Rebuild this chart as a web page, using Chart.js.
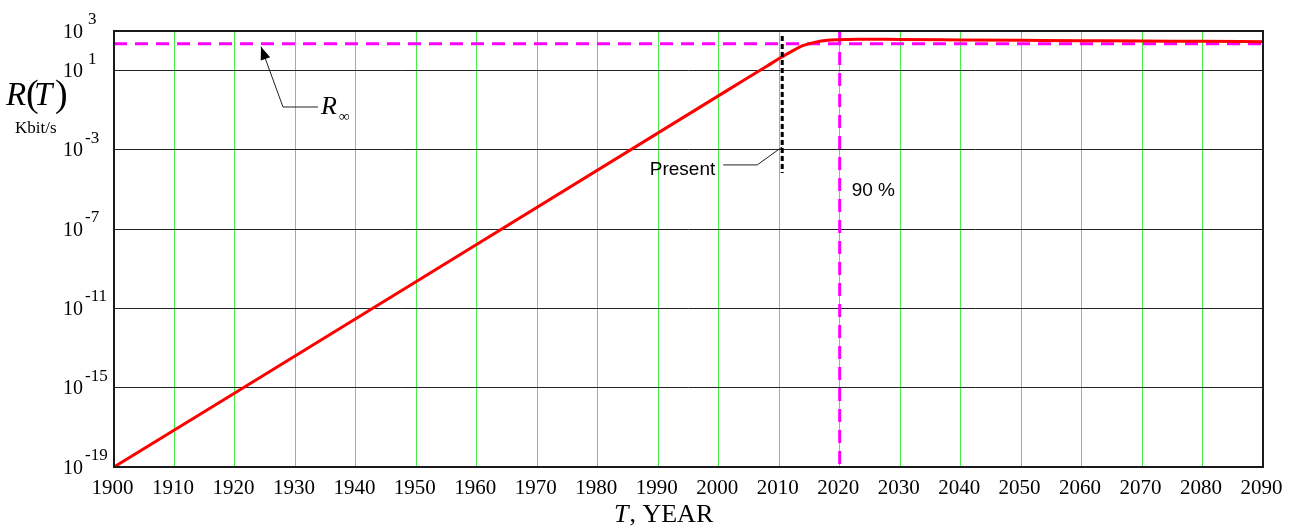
<!DOCTYPE html>
<html><head><meta charset="utf-8">
<script src="https://cdn.jsdelivr.net/npm/chart.js@4/dist/chart.umd.min.js"></script>
<style>html,body{margin:0;padding:0;background:#fff}#wrap{width:1297px;height:529px;position:relative}</style>
</head><body><div id="wrap"><canvas id="c"></canvas></div>
<script>
// ---- data ----
const years = [1900, 1950, 2000, 2004, 2008, 2010, 2012, 2014, 2016, 2018, 2020, 2023, 2030, 2040, 2050, 2060, 2070, 2080, 2090];
const rate  = [1e-19, 2.3e-10, 0.55, 3.1, 17, 41, 91, 186, 275, 339, 363, 389, 372, 355, 339, 324, 309, 302, 288];
const rInf = 229;
const presentYear = 2010.5;
const presentTop = 560;
const presentBottom = 6.8e-5;
const ninetyYear = 2020;
const xTicks = [1900,1910,1920,1930,1940,1950,1960,1970,1980,1990,2000,2010,2020,2030,2040,2050,2060,2070,2080,2090];
const yExponents = [-19,-15,-11,-7,-3,1,3];
const xMin = 1900, xMax = 2090, yMin = 1e-19, yMax = 1e3;

const SERIF = '"Liberation Serif", "Times New Roman", serif';
const SANS = '"Liberation Sans", Arial, sans-serif';

const deco = {
  id: 'deco',
  afterDraw(chart) {
    const {ctx, chartArea: a, scales: {x, y}} = chart;
    ctx.save();
    // frame
    ctx.strokeStyle = '#1a1a1a'; ctx.lineWidth = 2;
    ctx.strokeRect(a.left, a.top, a.right - a.left, a.bottom - a.top);
    ctx.fillStyle = '#000';
    ctx.textBaseline = 'alphabetic';
    // y tick labels 10^e
    yExponents.forEach(e => {
      const py = y.getPixelForValue(Math.pow(10, e));
      ctx.textAlign = 'left';
      ctx.font = '20px ' + SERIF;
      ctx.fillText('10', 63, py + 6.5);
      ctx.font = '17px ' + SERIF;
      ctx.fillText(String(e), e < 0 ? 85 : 88, py - 7);
    });
    // x tick labels
    ctx.textAlign = 'center';
    ctx.font = '21px ' + SERIF;
    xTicks.forEach(v => {
      ctx.fillText(String(v), x.getPixelForValue(v) - 1.5, 494);
    });
    // x axis title
    ctx.textAlign = 'left';
    ctx.font = 'italic 26px ' + SERIF;
    ctx.fillText('T', 614, 522);
    const tw = ctx.measureText('T').width;
    ctx.font = '26px ' + SERIF;
    ctx.fillText(', YEAR', 614 + tw + 1, 522);
    // y axis title R(T)
    ctx.font = 'italic 33px ' + SERIF;
    ctx.fillText('R', 6, 105);
    ctx.font = '38px ' + SERIF;
    ctx.fillText('(', 26, 106);
    ctx.font = 'italic 33px ' + SERIF;
    ctx.fillText('T', 34, 105);
    ctx.font = '38px ' + SERIF;
    ctx.fillText(')', 55, 106);
    ctx.font = '17px ' + SERIF;
    ctx.fillText('Kbit/s', 15, 133);

    // Present annotation
    const px = x.getPixelForValue(presentYear);
    const g3 = y.getPixelForValue(1e-3);
    ctx.strokeStyle = '#222'; ctx.lineWidth = 1;
    ctx.beginPath();
    ctx.moveTo(px, g3 - 3);
    ctx.lineTo(px - 25, g3 + 15);
    ctx.lineTo(px - 59, g3 + 15);
    ctx.stroke();
    ctx.font = '19px ' + SANS;
    ctx.textAlign = 'right';
    ctx.fillText('Present', px - 67, g3 + 25);

    // 90 % label
    const nx = x.getPixelForValue(ninetyYear);
    ctx.textAlign = 'left';
    ctx.fillText('90 %', nx + 12, 196);

    // R_inf annotation
    const ry = y.getPixelForValue(rInf);
    const tip = {x: 261, y: ry + 3};
    const base = {x: 283, y: 107};
    ctx.beginPath();
    ctx.moveTo(318, base.y); ctx.lineTo(base.x, base.y); ctx.lineTo(tip.x, tip.y);
    ctx.stroke();
    const ang = Math.atan2(tip.y - base.y, tip.x - base.x);
    const L = 13, W = 5;
    ctx.beginPath();
    ctx.moveTo(tip.x, tip.y);
    ctx.lineTo(tip.x - L * Math.cos(ang) + W * Math.sin(ang), tip.y - L * Math.sin(ang) - W * Math.cos(ang));
    ctx.lineTo(tip.x - L * Math.cos(ang) - W * Math.sin(ang), tip.y - L * Math.sin(ang) + W * Math.cos(ang));
    ctx.closePath();
    ctx.fillStyle = '#000';
    ctx.fill();
    ctx.font = 'italic 26px ' + SERIF;
    ctx.fillText('R', 321, 114);
    ctx.font = '15px ' + SERIF;
    ctx.fillText('\u221E', 339, 121);
    ctx.restore();
  }
};

new Chart(document.getElementById('c'), {
  type: 'line',
  data: {
    datasets: [
      {
        label: 'Present',
        data: [{x: presentYear, y: presentTop}, {x: presentYear, y: presentBottom}],
        borderColor: '#000', borderWidth: 3, borderDash: [5, 3], pointRadius: 0
      },
      {
        label: 'R(T)',
        data: years.map((v, i) => ({x: v, y: rate[i]})),
        borderColor: '#ff0000', borderWidth: 3, pointRadius: 0,
        cubicInterpolationMode: 'monotone'
      },
      {
        label: 'R_inf',
        data: [{x: xMin, y: rInf}, {x: xMax, y: rInf}],
        borderColor: '#ff00ff', borderWidth: 3, borderDash: [13, 8], pointRadius: 0
      },
      {
        label: '90 %',
        data: [{x: ninetyYear, y: yMax}, {x: ninetyYear, y: yMin}],
        borderColor: '#ff00ff', borderWidth: 3, borderDash: [13, 8], pointRadius: 0
      }
    ]
  },
  options: {
    responsive: true,
    maintainAspectRatio: false,
    animation: false,
    layout: {padding: {left: 0, top: 31, right: 34, bottom: 0}},
    plugins: {legend: {display: false}, tooltip: {enabled: false}},
    scales: {
      x: {
        type: 'linear', min: xMin, max: xMax,
        afterBuildTicks: s => { s.ticks = xTicks.map(v => ({value: v})); },
        afterFit: s => { s.height = 62; },
        ticks: {display: false},
        grid: {color: '#44ee44', lineWidth: 1, drawTicks: false},
        border: {display: false}
      },
      y: {
        type: 'logarithmic', min: yMin, max: yMax,
        afterBuildTicks: s => { s.ticks = yExponents.map(e => ({value: Math.pow(10, e)})); },
        afterFit: s => { s.width = 114; },
        ticks: {display: false},
        grid: {color: '#222', lineWidth: 1, drawTicks: false},
        border: {display: false}
      }
    }
  },
  plugins: [deco]
});
</script>
</body></html>
